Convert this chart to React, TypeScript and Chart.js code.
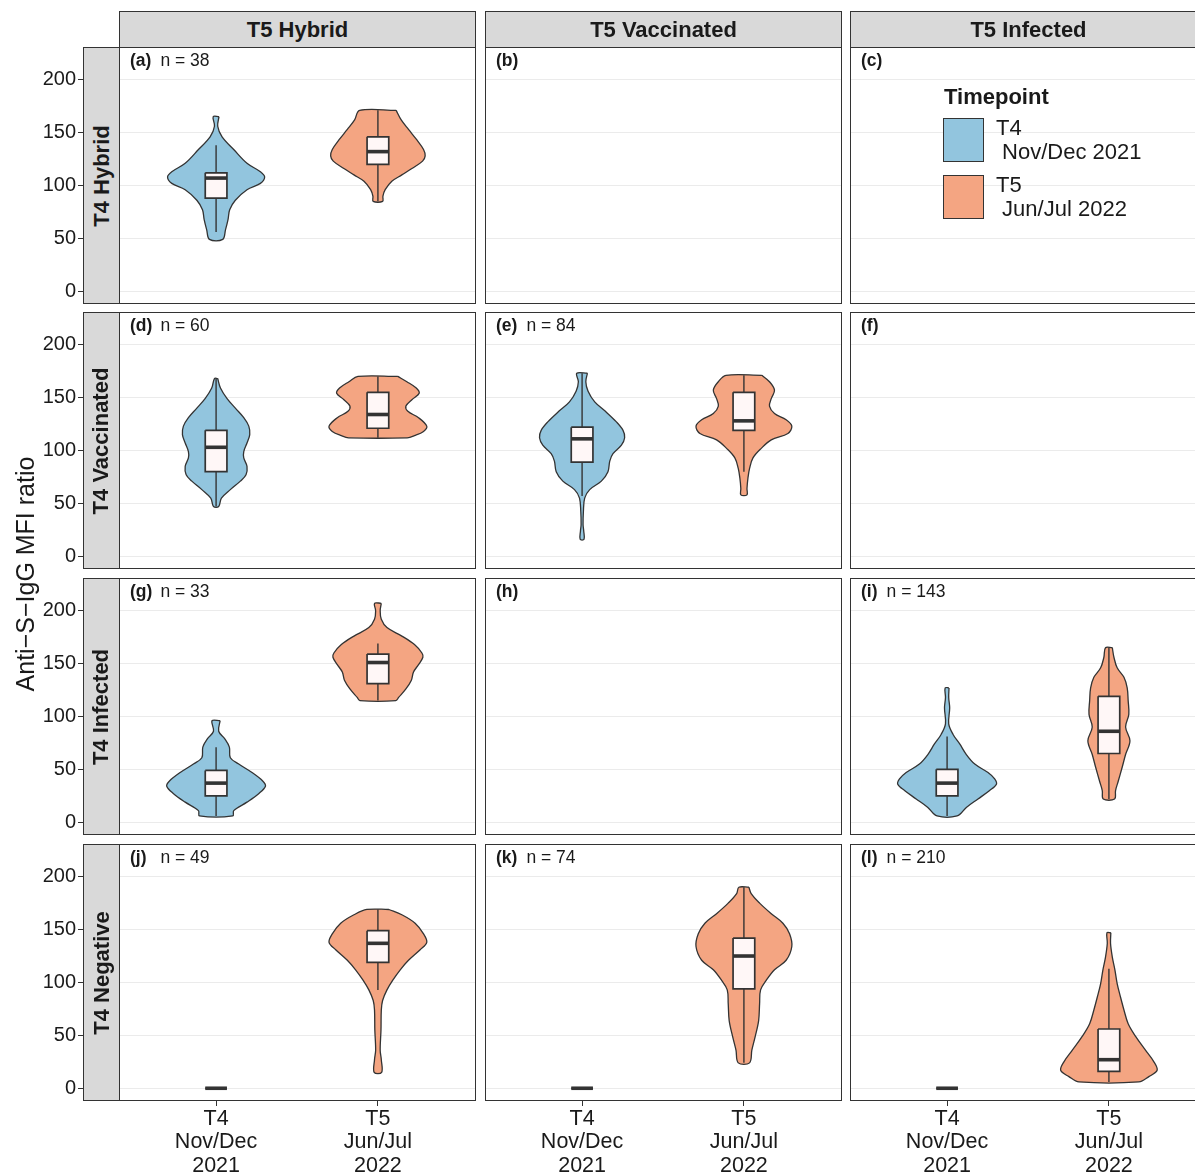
import React, { useEffect, useRef } from "react";
import { Chart, registerables } from "chart.js";

Chart.register(...registerables);

const FONT = "'Liberation Sans', Arial, Helvetica, sans-serif";
Chart.defaults.font.family = FONT;

// ---------------- labels ----------------
const COL_LABELS = ["T5 Hybrid", "T5 Vaccinated", "T5 Infected"];
const ROW_LABELS = ["T4 Hybrid", "T4 Vaccinated", "T4 Infected", "T4 Negative"];
const X_POSITIONS = [1, 2];
const X_TICK_LABELS = [["T4", "Nov/Dec", "2021"], ["T5", "Jun/Jul", "2022"]];
const Y_TICKS = [0, 50, 100, 150, 200];
const Y_TITLE = "Anti\u2212S\u2212IgG MFI ratio";
const LEGEND_TITLE = "Timepoint";
const LEGEND_LABELS = [["T4", " Nov/Dec 2021"], ["T5", " Jun/Jul 2022"]];
const PANEL_TAGS = ["(a)", "(b)", "(c)", "(d)", "(e)", "(f)", "(g)", "(h)", "(i)", "(j)", "(k)", "(l)"];
const PANEL_N = [38, null, null, 60, 84, null, 33, null, 143, 49, 74, 210];

// ---------------- violin data (y value, half width in x units) ----------------
const A_T4_Y = [165, 156, 146, 134, 121, 113, 108, 102, 96, 86, 77, 68, 58, 49];
const A_T4_W = [0.018, 0.01, 0.037, 0.109, 0.191, 0.274, 0.3, 0.274, 0.191, 0.119, 0.084, 0.074, 0.058, 0.041];
const A_T4_BOX = [56, 88, 107, 112, 138];
const A_T5_Y = [171, 162, 153, 143, 134, 128, 123, 116, 110, 104, 96, 90, 85];
const A_T5_W = [0.113, 0.144, 0.189, 0.241, 0.282, 0.292, 0.276, 0.21, 0.148, 0.086, 0.045, 0.031, 0.029];
const A_T5_BOX = [85, 120, 132, 146, 171];

const D_T4_Y = [168, 159, 149, 140, 131, 123, 115, 107, 99, 93, 85, 77, 71, 63, 55, 47];
const D_T4_W = [0.01, 0.027, 0.068, 0.119, 0.171, 0.202, 0.208, 0.191, 0.171, 0.171, 0.191, 0.185, 0.15, 0.088, 0.033, 0.016];
const D_T4_BOX = [47, 80, 103, 119, 168];
const D_T5_Y = [170, 165, 159, 154, 148, 142, 137, 131, 123, 118, 114, 112];
const D_T5_W = [0.123, 0.179, 0.237, 0.255, 0.21, 0.173, 0.185, 0.251, 0.302, 0.282, 0.226, 0.181];
const D_T5_BOX = [112, 121, 134, 155, 170];

const E_T4_Y = [173, 165, 156, 146, 137, 127, 119, 112, 105, 97, 90, 80, 71, 63, 55, 42, 30, 24, 16];
const E_T4_W = [0.033, 0.023, 0.037, 0.078, 0.144, 0.212, 0.253, 0.263, 0.243, 0.191, 0.171, 0.16, 0.119, 0.047, 0.016, 0.008, 0.006, 0.01, 0.012];
const E_T4_BOX = [57, 89, 111, 122, 173];
const E_T5_Y = [171, 165, 157, 149, 142, 135, 129, 123, 116, 110, 102, 93, 83, 74, 64, 58];
const E_T5_W = [0.111, 0.158, 0.189, 0.169, 0.158, 0.189, 0.261, 0.296, 0.272, 0.169, 0.107, 0.056, 0.035, 0.025, 0.019, 0.019];
const E_T5_BOX = [80, 119, 128, 155, 171];

const G_T4_Y = [96, 86, 79, 71, 61, 55, 47, 39, 34, 27, 19, 11, 6];
const G_T4_W = [0.025, 0.016, 0.053, 0.082, 0.088, 0.14, 0.222, 0.288, 0.305, 0.263, 0.191, 0.109, 0.103];
const G_T4_BOX = [6, 25, 37, 49, 71];
const G_T5_Y = [207, 200, 192, 184, 176, 168, 160, 156, 149, 142, 134, 126, 118, 115];
const G_T5_W = [0.021, 0.014, 0.021, 0.056, 0.148, 0.226, 0.272, 0.278, 0.251, 0.22, 0.206, 0.173, 0.128, 0.111];
const G_T5_BOX = [115, 131, 151, 159, 169];

const I_T4_Y = [127, 118, 108, 93, 83, 74, 64, 55, 47, 41, 36, 30, 22, 14, 6];
const I_T4_W = [0.012, 0.01, 0.016, 0.01, 0.037, 0.078, 0.119, 0.171, 0.253, 0.294, 0.305, 0.263, 0.191, 0.119, 0.062];
const I_T4_BOX = [6, 25, 37, 50, 81];
const I_T5_Y = [165, 156, 146, 137, 127, 115, 102, 90, 77, 64, 52, 39, 30, 22];
const I_T5_W = [0.021, 0.031, 0.051, 0.093, 0.113, 0.119, 0.123, 0.103, 0.13, 0.103, 0.082, 0.058, 0.041, 0.035];
const I_T5_BOX = [22, 65, 86, 119, 165];

const J_T4_BOX = [0, 0, 0, 0, 0];
const J_T5_Y = [169, 164, 156, 146, 138, 131, 121, 112, 102, 93, 83, 74, 55, 36, 27, 15];
const J_T5_W = [0.068, 0.148, 0.23, 0.282, 0.302, 0.261, 0.189, 0.138, 0.091, 0.056, 0.029, 0.021, 0.019, 0.014, 0.021, 0.023];
const J_T5_BOX = [93, 119, 137, 149, 169];

const K_T4_BOX = [0, 0, 0, 0, 0];
const K_T5_Y = [190, 184, 175, 165, 156, 146, 134, 121, 112, 102, 93, 80, 64, 49, 36, 24];
const K_T5_W = [0.031, 0.045, 0.097, 0.169, 0.241, 0.282, 0.296, 0.261, 0.189, 0.138, 0.103, 0.097, 0.091, 0.07, 0.049, 0.035];
const K_T5_BOX = [24, 94, 125, 142, 190];

const L_T4_BOX = [0, 0, 0, 0, 0];
const L_T5_Y = [147, 137, 124, 112, 99, 86, 74, 61, 49, 36, 25, 17, 11, 6];
const L_T5_W = [0.012, 0.01, 0.021, 0.037, 0.051, 0.072, 0.093, 0.119, 0.165, 0.226, 0.278, 0.298, 0.247, 0.185];
const L_T5_BOX = [6, 16, 27, 56, 113];

type Violin = { x: number; ys: number[]; ws: number[]; box: number[] };

const PANELS: Violin[][] = [
  [{ x: 1, ys: A_T4_Y, ws: A_T4_W, box: A_T4_BOX }, { x: 2, ys: A_T5_Y, ws: A_T5_W, box: A_T5_BOX }],
  [],
  [],
  [{ x: 1, ys: D_T4_Y, ws: D_T4_W, box: D_T4_BOX }, { x: 2, ys: D_T5_Y, ws: D_T5_W, box: D_T5_BOX }],
  [{ x: 1, ys: E_T4_Y, ws: E_T4_W, box: E_T4_BOX }, { x: 2, ys: E_T5_Y, ws: E_T5_W, box: E_T5_BOX }],
  [],
  [{ x: 1, ys: G_T4_Y, ws: G_T4_W, box: G_T4_BOX }, { x: 2, ys: G_T5_Y, ws: G_T5_W, box: G_T5_BOX }],
  [],
  [{ x: 1, ys: I_T4_Y, ws: I_T4_W, box: I_T4_BOX }, { x: 2, ys: I_T5_Y, ws: I_T5_W, box: I_T5_BOX }],
  [{ x: 1, ys: [], ws: [], box: J_T4_BOX }, { x: 2, ys: J_T5_Y, ws: J_T5_W, box: J_T5_BOX }],
  [{ x: 1, ys: [], ws: [], box: K_T4_BOX }, { x: 2, ys: K_T5_Y, ws: K_T5_W, box: K_T5_BOX }],
  [{ x: 1, ys: [], ws: [], box: L_T4_BOX }, { x: 2, ys: L_T5_Y, ws: L_T5_W, box: L_T5_BOX }],
];

// ---------------- styles / layout ----------------
const BLUE = "#92C5DE";
const SALMON = "#F4A582";
const BOX_FILL = "#FFF7F7";
const EDGE = "#333333";
const GRID = "#EBEBEB";
const STRIP_FILL = "#D9D9D9";
const TEXT = "#1A1A1A";
const BOX_HALF = 0.067;

const X_MIN = 0.4;
const X_MAX = 2.6;
const Y_MIN = -11.1;
const Y_MAX = 230.9;

const COL_LEFT = [119, 485, 850];
const ROW_TOP = [47, 312, 578, 844];
const PANEL_W = 356;
const PANEL_H = 256;
const Y_AXIS_W = 119;
const X_AXIS_H = 74;

function violinPolygon(c: number, ys: number[], ws: number[]) {
  const right = ys.map((y, i) => ({ x: c + ws[i], y }));
  const left = ys.map((y, i) => ({ x: c - ws[i], y })).reverse();
  return [...right, ...left, right[0]];
}

function buildDatasets(violins: Violin[]) {
  const out: any[] = [];
  violins.forEach((v) => {
    const color = v.x === 1 ? BLUE : SALMON;
    const [lo, q1, med, q3, hi] = v.box;
    if (v.ys.length) {
      out.push({
        data: violinPolygon(v.x, v.ys, v.ws),
        backgroundColor: color,
        borderColor: EDGE,
        borderWidth: 1.3,
        fill: "shape",
        tension: 0.35,
        order: 40,
      });
    }
    out.push({
      data: [{ x: v.x, y: lo }, { x: v.x, y: hi }],
      borderColor: EDGE,
      borderWidth: 1.4,
      fill: false,
      tension: 0,
      order: 30,
    });
    out.push({
      data: [
        { x: v.x - BOX_HALF, y: q3 },
        { x: v.x + BOX_HALF, y: q3 },
        { x: v.x + BOX_HALF, y: q1 },
        { x: v.x - BOX_HALF, y: q1 },
        { x: v.x - BOX_HALF, y: q3 },
      ],
      backgroundColor: BOX_FILL,
      borderColor: EDGE,
      borderWidth: 1.7,
      borderJoinStyle: "miter",
      fill: "shape",
      tension: 0,
      order: 20,
    });
    out.push({
      data: [{ x: v.x - BOX_HALF, y: med }, { x: v.x + BOX_HALF, y: med }],
      borderColor: EDGE,
      borderWidth: 3.6,
      borderCapStyle: "butt",
      fill: false,
      tension: 0,
      order: 10,
    });
  });
  return out;
}

function Panel({ index }: { index: number }) {
  const ref = useRef<HTMLCanvasElement>(null);
  const row = Math.floor(index / 3);
  const col = index % 3;
  const isLeft = col === 0;
  const isBottom = row === 3;

  useEffect(() => {
    const chart = new Chart(ref.current as HTMLCanvasElement, {
      type: "line",
      data: { datasets: buildDatasets(PANELS[index]) },
      options: {
        animation: false,
        responsive: true,
        maintainAspectRatio: false,
        events: [],
        layout: { padding: 0, autoPadding: false },
        plugins: { legend: { display: false }, tooltip: { enabled: false } },
        elements: { point: { radius: 0, hoverRadius: 0 } },
        scales: {
          x: {
            type: "linear",
            min: X_MIN,
            max: X_MAX,
            display: isBottom,
            grid: { drawOnChartArea: false, drawTicks: true, tickLength: 6, tickColor: EDGE, tickWidth: 1 },
            border: { display: false },
            ticks: {
              autoSkip: false,
              maxRotation: 0,
              padding: 1,
              color: TEXT,
              font: { size: 21.5, lineHeight: 1.1 },
              callback: (_v: any, i: number) => X_TICK_LABELS[i] ?? "",
            },
            afterBuildTicks: (s: any) => {
              s.ticks = X_POSITIONS.map((v) => ({ value: v }));
            },
            afterFit: (s: any) => {
              s.height = isBottom ? X_AXIS_H : 0;
              s.paddingLeft = 0;
              s.paddingRight = 0;
            },
          },
          y: {
            type: "linear",
            min: Y_MIN,
            max: Y_MAX,
            grid: { color: GRID, lineWidth: 1, drawTicks: isLeft, tickLength: 41, tickColor: EDGE, tickWidth: 1 },
            border: { display: false },
            ticks: { display: isLeft, autoSkip: false, padding: 2, color: TEXT, font: { size: 20 } },
            afterBuildTicks: (s: any) => {
              s.ticks = Y_TICKS.map((v) => ({ value: v }));
            },
            afterFit: (s: any) => {
              s.width = isLeft ? Y_AXIS_W : 0;
              s.paddingTop = 0;
              s.paddingBottom = 0;
            },
          },
        },
      } as any,
    });
    return () => chart.destroy();
  }, [index]);

  const left = isLeft ? COL_LEFT[col] - Y_AXIS_W : COL_LEFT[col];
  const width = isLeft ? PANEL_W + Y_AXIS_W : PANEL_W;
  const height = isBottom ? PANEL_H + X_AXIS_H : PANEL_H;
  return (
    <div style={{ position: "absolute", left, top: ROW_TOP[row], width, height }}>
      <canvas ref={ref} />
    </div>
  );
}

export default function App() {
  const panels = Array.from({ length: 12 }, (_, i) => i);
  return (
    <div
      style={{
        position: "absolute",
        left: 0,
        top: 0,
        width: 1195,
        height: 1174,
        overflow: "hidden",
        background: "#FFFFFF",
        fontFamily: FONT,
        color: TEXT,
      }}
    >
      {panels.map((i) => (
        <Panel key={"p" + i} index={i} />
      ))}

      {/* panel borders */}
      {panels.map((i) => (
        <div
          key={"b" + i}
          style={{
            position: "absolute",
            left: COL_LEFT[i % 3],
            top: ROW_TOP[Math.floor(i / 3)],
            width: PANEL_W + 1,
            height: PANEL_H + 1,
            boxSizing: "border-box",
            border: `1px solid ${EDGE}`,
            pointerEvents: "none",
          }}
        />
      ))}

      {/* top strips */}
      {COL_LABELS.map((t, c) => (
        <div
          key={"cs" + c}
          style={{
            position: "absolute",
            left: COL_LEFT[c],
            top: 11,
            width: PANEL_W + 1,
            height: 37,
            boxSizing: "border-box",
            border: `1px solid ${EDGE}`,
            background: STRIP_FILL,
            display: "flex",
            alignItems: "center",
            justifyContent: "center",
            fontWeight: "bold",
            fontSize: 22,
          }}
        >
          {t}
        </div>
      ))}

      {/* left strips */}
      {ROW_LABELS.map((t, r) => (
        <div
          key={"rs" + r}
          style={{
            position: "absolute",
            left: 83,
            top: ROW_TOP[r],
            width: 37,
            height: PANEL_H + 1,
            boxSizing: "border-box",
            border: `1px solid ${EDGE}`,
            background: STRIP_FILL,
            display: "flex",
            alignItems: "center",
            justifyContent: "center",
          }}
        >
          <div style={{ transform: "rotate(-90deg)", whiteSpace: "nowrap", fontWeight: "bold", fontSize: 22 }}>{t}</div>
        </div>
      ))}

      {/* panel tags and n labels */}
      {panels.map((i) => {
        const l = COL_LEFT[i % 3];
        const t = ROW_TOP[Math.floor(i / 3)];
        return (
          <React.Fragment key={"t" + i}>
            <div
              style={{
                position: "absolute",
                left: l + 11,
                top: t + 3,
                lineHeight: "20px",
                fontSize: 17.5,
                fontWeight: "bold",
                whiteSpace: "nowrap",
              }}
            >
              {PANEL_TAGS[i]}
            </div>
            {PANEL_N[i] !== null && (
              <div
                style={{
                  position: "absolute",
                  left: l + 66 - 50,
                  width: 100,
                  textAlign: "center",
                  top: t + 3,
                  lineHeight: "20px",
                  fontSize: 17.5,
                  whiteSpace: "nowrap",
                }}
              >
                {"n = " + PANEL_N[i]}
              </div>
            )}
          </React.Fragment>
        );
      })}

      {/* y axis title */}
      <div
        style={{
          position: "absolute",
          left: 25 - 200,
          top: 574 - 15,
          width: 400,
          height: 30,
          lineHeight: "30px",
          textAlign: "center",
          fontSize: 25,
          transform: "rotate(-90deg)",
          whiteSpace: "nowrap",
        }}
      >
        {Y_TITLE}
      </div>

      {/* legend */}
      <div style={{ position: "absolute", left: 944, top: 84, fontSize: 22, fontWeight: "bold", lineHeight: "26px" }}>
        {LEGEND_TITLE}
      </div>
      {LEGEND_LABELS.map((lab, k) => (
        <React.Fragment key={"lg" + k}>
          <div
            style={{
              position: "absolute",
              left: 943,
              top: 118 + k * 57,
              width: 41,
              height: 44,
              boxSizing: "border-box",
              border: `1px solid ${EDGE}`,
              background: k === 0 ? BLUE : SALMON,
            }}
          />
          <div
            style={{
              position: "absolute",
              left: 996,
              top: 116 + k * 57,
              fontSize: 22,
              lineHeight: "24px",
              whiteSpace: "pre",
            }}
          >
            {lab[0] + "\n" + lab[1]}
          </div>
        </React.Fragment>
      ))}
    </div>
  );
}
